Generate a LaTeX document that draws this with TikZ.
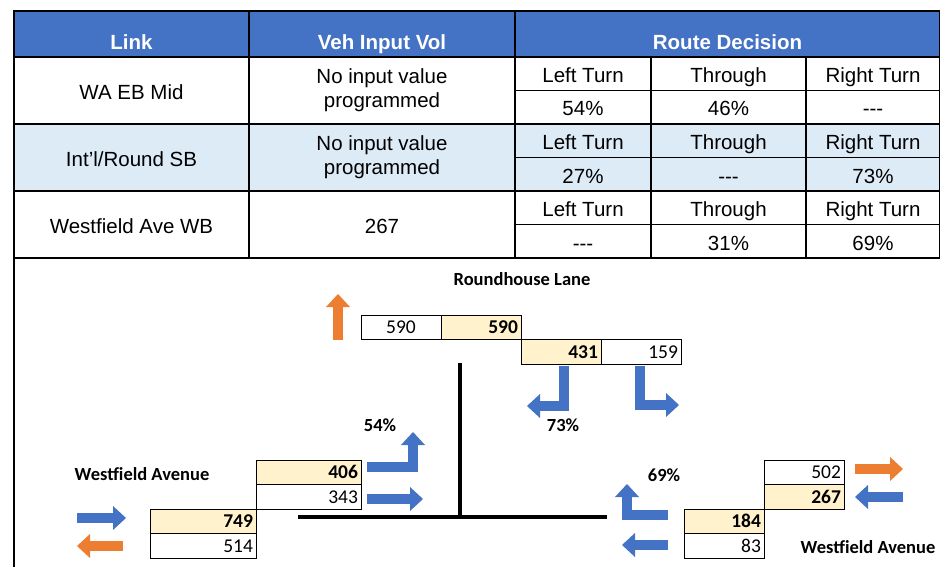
\documentclass[tikz,border=0pt]{standalone}
\usepackage{fontspec}
\setmainfont{Liberation Sans}
\newfontfamily\diagfont{Carlito}
\usetikzlibrary{shapes, arrows, arrows.meta, calc, positioning}
\definecolor{hdrblue}{HTML}{4472C4}
\definecolor{rowblue}{HTML}{DDEBF7}
\definecolor{volyellow}{HTML}{FFF2CC}
\definecolor{arrblue}{HTML}{4472C4}
\definecolor{arrorange}{HTML}{ED7D31}
\tikzstyle{hdr} = [rectangle, draw, line width=1.2pt, fill=hdrblue, text=white, font=\fontsize{20.5}{24}\selectfont\bfseries, minimum height=46pt, outer sep=0pt, inner sep=0pt, text height=31pt, text depth=0pt]
\tikzstyle{cell} = [rectangle, draw, line width=1.2pt, font=\fontsize{20.5}{24}\selectfont, minimum height=67pt, outer sep=0pt, inner sep=0pt, text height=17.5pt, text depth=0pt]
\tikzstyle{subcell} = [cell, minimum height=33.5pt]
\tikzstyle{twoline} = [align=center, text height={}, text depth={}]
\tikzstyle{volbox} = [rectangle, draw, line width=1pt, font=\diagfont\fontsize{19.5}{20}\selectfont, minimum height=24.5pt, text width=74pt, align=right, inner xsep=3pt, inner ysep=0pt, outer sep=0pt, text height=12.5pt, text depth=0pt]
\tikzstyle{volhi} = [volbox, fill=volyellow, font=\diagfont\fontsize{19.5}{20}\selectfont\bfseries]
\tikzstyle{roadname} = [font=\diagfont\fontsize{18.5}{20}\selectfont\bfseries]
\tikzstyle{flow} = [line width=10.5pt, -{Triangle[length=13pt, width=24pt, line width=0pt]}, line join=miter]
\tikzstyle{road} = [draw, line width=4pt]

\begin{document}
\begin{tikzpicture}[x=1pt, y=-1pt]
        \useasboundingbox (0,0) rectangle (940,567);

        \node[hdr, minimum width=235pt] (00) at (131.5,34) {Link};
        \node[hdr, minimum width=266pt, right=0pt of 00] (01) {Veh Input Vol};
        \node[hdr, minimum width=425pt, right=0pt of 01] (02) {Route Decision};

        \node[cell, minimum width=235pt, below=0pt of 00] (10) {WA EB Mid};
        \node[cell, twoline, minimum width=266pt, right=0pt of 10] (11) {No input value\\programmed};
        \node[subcell, minimum width=136pt, anchor=north west] (12) at (11.north east) {Left Turn};
        \node[subcell, minimum width=155pt, right=0pt of 12] (13) {Through};
        \node[subcell, minimum width=134pt, right=0pt of 13] (14) {Right Turn};
        \node[subcell, minimum width=136pt, below=0pt of 12] (15) {54\%};
        \node[subcell, minimum width=155pt, right=0pt of 15] (16) {46\%};
        \node[subcell, minimum width=134pt, right=0pt of 16] (17) {-{}-{}-};

        \node[cell, fill=rowblue, minimum width=235pt, below=0pt of 10] (20) {Int’l/Round SB};
        \node[cell, twoline, fill=rowblue, minimum width=266pt, right=0pt of 20] (21) {No input value\\programmed};
        \node[subcell, fill=rowblue, minimum width=136pt, anchor=north west] (22) at (21.north east) {Left Turn};
        \node[subcell, fill=rowblue, minimum width=155pt, right=0pt of 22] (23) {Through};
        \node[subcell, fill=rowblue, minimum width=134pt, right=0pt of 23] (24) {Right Turn};
        \node[subcell, fill=rowblue, minimum width=136pt, below=0pt of 22] (25) {27\%};
        \node[subcell, fill=rowblue, minimum width=155pt, right=0pt of 25] (26) {-{}-{}-};
        \node[subcell, fill=rowblue, minimum width=134pt, right=0pt of 26] (27) {73\%};

        \node[cell, minimum width=235pt, below=0pt of 20] (30) {Westfield Ave WB};
        \node[cell, minimum width=266pt, right=0pt of 30] (31) {267};
        \node[subcell, minimum width=136pt, anchor=north west] (32) at (31.north east) {Left Turn};
        \node[subcell, minimum width=155pt, right=0pt of 32] (33) {Through};
        \node[subcell, minimum width=134pt, right=0pt of 33] (34) {Right Turn};
        \node[subcell, minimum width=136pt, below=0pt of 32] (35) {-{}-{}-};
        \node[subcell, minimum width=155pt, right=0pt of 35] (36) {31\%};
        \node[subcell, minimum width=134pt, right=0pt of 36] (37) {69\%};

        \draw[line width=1.2pt] (30.south west) -- ++(0,320);

        \node[roadname] (50) at (522,279) {Roundhouse Lane};
        \node[volbox, align=center] (51) at (401,327.5) {590};
        \node[volhi, right=0pt of 51] (52) {590};
        \node[volhi, anchor=north west] (53) at (52.south east) {431};
        \node[volbox, right=0pt of 53] (54) {159};
        \node[roadname] (55) at (563,425) {73\%};

        \node[roadname] (60) at (142,474) {Westfield Avenue};
        \node[volhi, text width=99pt] (61) at (308.5,472.5) {406};
        \node[volbox, text width=99pt, below=0pt of 61] (62) {343};
        \node[volhi, text width=100pt, anchor=north east] (63) at (62.south west) {749};
        \node[volbox, text width=100pt, below=0pt of 63] (64) {514};
        \node[roadname] (65) at (380,425) {54\%};

        \node[volbox] (70) at (804,472.5) {502};
        \node[volhi, below=0pt of 70] (71) {267};
        \node[volhi, anchor=north east] (72) at (71.south west) {184};
        \node[volbox, below=0pt of 72] (73) {83};
        \node[roadname] (74) at (868,547) {Westfield Avenue};
        \node[roadname] (75) at (664,475) {69\%};

        \path[road] (460,363) -- (460,517);
        \path[road] (298,517) -- (607,517);

        \draw[flow, arrorange] (338,340) -- (338,294);
        \draw[flow, arrblue] (564,366) |- (527,406);
        \draw[flow, arrblue] (640,366) |- (679,405);
        \draw[flow, arrblue] (77,518) -- (126,518);
        \draw[flow, arrorange] (123,546) -- (77,546);
        \draw[flow, arrblue] (367,467) -| (413,432);
        \draw[flow, arrblue] (367,499) -- (423,499);
        \draw[flow, arrorange] (855,469) -- (903,469);
        \draw[flow, arrblue] (903,497) -- (855,497);
        \draw[flow, arrblue] (668,515) -| (627,484);
        \draw[flow, arrblue] (668,545) -- (622,545);
    \end{tikzpicture}
\end{document}
